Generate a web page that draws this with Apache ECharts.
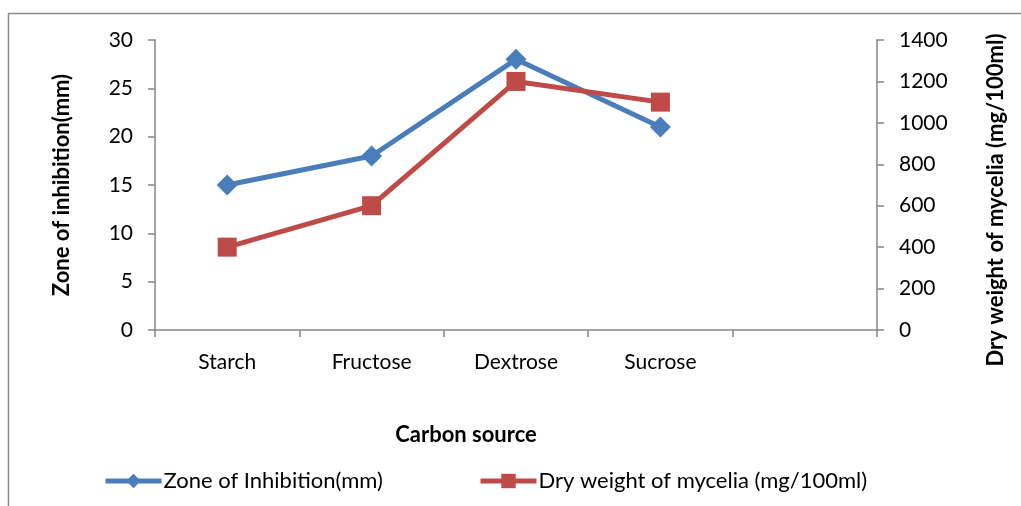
<!DOCTYPE html>
<html>
<head>
<meta charset="utf-8">
<script src="https://cdn.jsdelivr.net/npm/echarts@6/dist/echarts.min.js"></script>
<style>
  html, body { margin: 0; padding: 0; background: #fff; }
  #chart { width: 1021px; height: 506px; }
</style>
</head>
<body>
<div id="chart"></div>
<script>
// Carbon sources tested (last slot left empty on the axis)
const categories = ['Starch', 'Fructose', 'Dextrose', 'Sucrose', ''];
// Zone of inhibition, mm (left axis)
const inhibition = [15, 18, 28, 21];
// Dry weight of mycelia, mg/100ml (right axis)
const dryWeight = [400, 600, 1200, 1100];

const FONT = 'Lato';
const axisGray = '#868686';

const chart = echarts.init(document.getElementById('chart'));
chart.setOption({
  animation: false,
  backgroundColor: '#fff',
  textStyle: { fontFamily: FONT, color: '#000' },
  graphic: [{
    type: 'rect',
    shape: { x: 8.5, y: 13.5, width: 1200, height: 700 },
    style: { fill: 'none', stroke: '#8c8c8c', lineWidth: 1.5 },
    silent: true
  }],
  grid: { left: 155, right: 144, top: 40, bottom: 176 },
  legend: [{
    data: ['Zone of Inhibition(mm)'],
    left: 103, top: 470, padding: 0,
    itemWidth: 56, itemHeight: 18, itemGap: 0,
    lineStyle: { width: 5 },
    textStyle: { fontFamily: FONT, fontSize: 22, color: '#000', padding: [0, 0, 0, -3] }
  }, {
    data: ['Dry weight of mycelia (mg/100ml)'],
    left: 478, top: 470, padding: 0,
    itemWidth: 56, itemHeight: 18, itemGap: 0,
    lineStyle: { width: 5 },
    textStyle: { fontFamily: FONT, fontSize: 22, color: '#000', padding: [0, 0, 0, -3] }
  }],
  xAxis: {
    type: 'category',
    data: categories,
    boundaryGap: true,
    name: 'Carbon source',
    nameLocation: 'middle',
    nameGap: 94,
    nameTextStyle: { fontFamily: FONT, fontSize: 22, fontWeight: 'bold', color: '#000', padding: [0, 100, 0, 0] },
    axisLine: { lineStyle: { color: axisGray, width: 1.5 } },
    axisTick: { show: true, length: 7, alignWithLabel: false, lineStyle: { color: axisGray, width: 1.5 } },
    axisLabel: { fontFamily: FONT, fontSize: 21, color: '#000', margin: 22 },
    splitLine: { show: false }
  },
  yAxis: [{
    type: 'value',
    min: 0, max: 30, interval: 5,
    name: 'Zone of inhibition(mm)',
    nameLocation: 'middle',
    nameGap: 82,
    nameRotate: 90,
    nameTextStyle: { fontFamily: FONT, fontSize: 22, fontWeight: 'bold', color: '#000' },
    axisLine: { show: true, lineStyle: { color: axisGray, width: 1.5 } },
    axisTick: { show: true, length: 7, lineStyle: { color: axisGray, width: 1.5 } },
    axisLabel: { fontFamily: FONT, fontSize: 21, color: '#000', margin: 22 },
    splitLine: { show: false }
  }, {
    type: 'value',
    position: 'right',
    min: 0, max: 1400, interval: 200,
    name: 'Dry weight of mycelia (mg/100ml)',
    nameLocation: 'middle',
    nameGap: 108,
    nameRotate: 90,
    nameTextStyle: { fontFamily: FONT, fontSize: 22, fontWeight: 'bold', color: '#000', padding: [0, 30, 0, 0] },
    axisLine: { show: true, lineStyle: { color: axisGray, width: 1.5 } },
    axisTick: { show: true, length: 7, lineStyle: { color: axisGray, width: 1.5 } },
    axisLabel: { fontFamily: FONT, fontSize: 21, color: '#000', margin: 22, formatter: v => String(v) },
    splitLine: { show: false }
  }],
  series: [{
    name: 'Zone of Inhibition(mm)',
    type: 'line',
    yAxisIndex: 0,
    data: inhibition,
    symbol: 'diamond',
    symbolSize: 21,
    lineStyle: { color: '#4A7EBB', width: 5 },
    itemStyle: { color: '#4A7EBB' }
  }, {
    name: 'Dry weight of mycelia (mg/100ml)',
    type: 'line',
    yAxisIndex: 1,
    data: dryWeight,
    symbol: 'rect',
    symbolSize: 19,
    lineStyle: { color: '#BE4B48', width: 5 },
    itemStyle: { color: '#BE4B48' }
  }]
});
</script>
</body>
</html>
